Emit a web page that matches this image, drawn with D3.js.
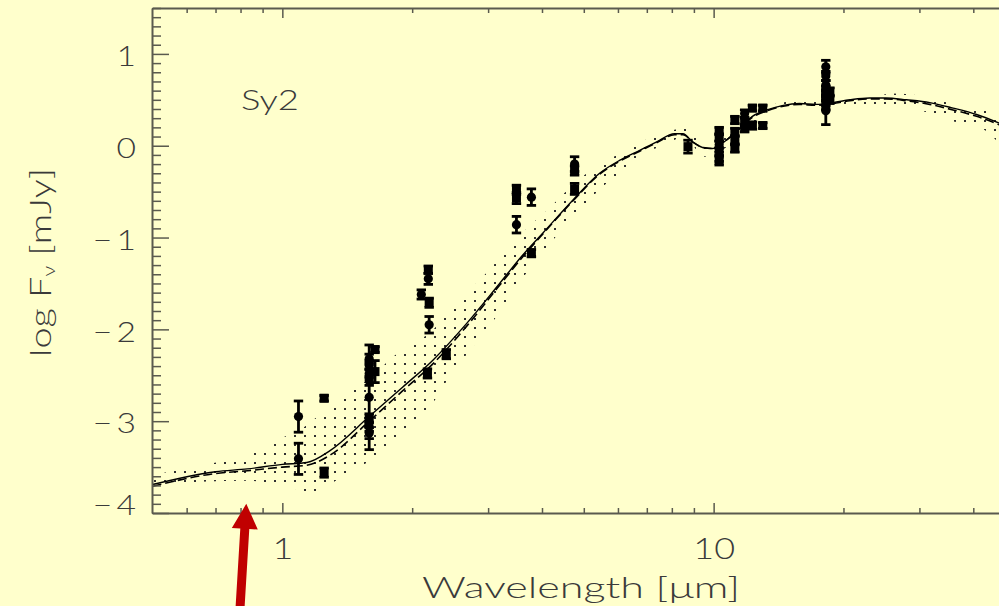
<!DOCTYPE html>
<html>
<head>
<meta charset="utf-8">
<script src="https://cdn.jsdelivr.net/npm/d3@7"></script>
<style>
  html, body { margin: 0; padding: 0; background: #ffffcc; }
  svg { display: block; }
  text { font-family: Lato, "DejaVu Sans", sans-serif; font-weight: 300; fill: #3a3a3a; }
</style>
</head>
<body>
<svg id="chart" width="999" height="606"></svg>
<script>
// ---- Model SED (log flux density vs. wavelength in micron) ----
const modelWave   = [0.5, 0.7, 0.83, 1.0, 1.14, 1.29, 1.59, 1.90, 2.24, 2.67, 3.19, 3.61, 4.02, 4.72, 5.44, 6.05, 6.74, 7.36, 8.12, 8.49, 8.95, 9.45, 9.96, 10.7, 11.5, 12.3, 13.3, 14.5, 15.8, 17.3, 18.9, 20.7, 23.0, 25.1, 28.0, 31.7, 35.9, 40.7, 45.8, 50];
const modelSolid  = [-3.69, -3.55, -3.52, -3.47, -3.45, -3.32, -2.95, -2.63, -2.33, -1.94, -1.50, -1.19, -0.95, -0.59, -0.30, -0.16, -0.05, 0.04, 0.13, 0.13, 0.04, -0.02, -0.03, 0.06, 0.19, 0.32, 0.39, 0.44, 0.46, 0.45, 0.47, 0.50, 0.52, 0.52, 0.50, 0.47, 0.41, 0.34, 0.25, 0.17];
const modelDashed = [-3.71, -3.57, -3.54, -3.50, -3.48, -3.37, -3.00, -2.67, -2.37, -1.97, -1.52, -1.21, -0.96, -0.60, -0.31, -0.17, -0.06, 0.03, 0.12, 0.12, 0.04, -0.02, -0.03, 0.06, 0.19, 0.31, 0.38, 0.43, 0.45, 0.44, 0.46, 0.49, 0.51, 0.51, 0.49, 0.45, 0.39, 0.32, 0.23, 0.15];

// ---- Spread of the model family (dotted envelope) ----
const bandWave  = [0.5, 0.644, 0.831, 1.0, 1.097, 1.175, 1.308, 1.456, 1.612, 1.793, 2.01, 2.22, 2.44, 2.72, 3.02, 3.36, 3.73, 4.12, 4.59, 5.08, 5.65, 6.28, 6.92, 7.69, 8.55, 9.5, 10.6, 11.8, 13.7, 16.1, 20.4, 23.3, 25.9, 28.6, 31.7, 34.8, 39.2, 43.4, 47.2];
const bandUpper = [-3.59, -3.48, -3.37, -3.18, -3.10, -2.99, -2.84, -2.66, -2.52, -2.31, -2.15, -2.02, -1.79, -1.57, -1.35, -1.10, -0.88, -0.70, -0.48, -0.30, -0.16, -0.05, 0.06, 0.14, 0.19, 0.03, 0.12, 0.28, 0.45, 0.49, 0.48, 0.53, 0.57, 0.56, 0.52, 0.47, 0.41, 0.37, 0.28];
const bandLower = [-3.73, -3.66, -3.65, -3.70, -3.75, -3.77, -3.67, -3.53, -3.42, -3.21, -3.02, -2.82, -2.52, -2.23, -1.97, -1.65, -1.35, -1.10, -0.84, -0.62, -0.41, -0.27, -0.08, 0.00, 0.10, -0.12, -0.03, 0.14, 0.40, 0.40, 0.43, 0.43, 0.41, 0.39, 0.36, 0.28, 0.23, 0.14, -0.05];

// ---- Photometry ----
const obsWave   = [1.09, 1.09, 1.25, 1.25, 1.59, 1.59, 1.59, 1.59, 1.59, 1.59, 1.59, 1.59, 1.64, 1.64, 2.18, 2.18, 2.10, 2.19, 2.19, 2.40, 2.17, 3.49, 3.49, 3.49, 3.78, 3.78, 4.76, 4.76, 4.76, 8.72, 10.3, 10.3, 10.3, 10.3, 10.3, 10.3, 11.2, 11.2, 11.2, 11.2, 11.8, 11.8, 11.8, 12.3, 12.3, 13.0, 13.0, 18.2, 18.2, 18.2, 18.2, 18.2, 18.2, 18.2, 18.2, 18.6, 18.6];
const obsLogF   = [-2.95, -3.41, -2.75, -3.56, -2.32, -2.39, -2.48, -2.56, -2.74, -2.97, -3.06, -3.13, -2.22, -2.46, -1.35, -1.45, -1.62, -1.71, -1.95, -2.27, -2.48, -0.48, -0.57, -0.86, -0.56, -1.17, -0.20, -0.27, -0.47, -0.01, 0.16, 0.09, 0.01, -0.06, -0.12, -0.16, 0.28, 0.15, 0.06, -0.03, 0.35, 0.26, 0.19, 0.41, 0.22, 0.41, 0.22, 0.86, 0.76, 0.66, 0.60, 0.55, 0.49, 0.44, 0.38, 0.59, 0.50];
const obsErr    = [0.17, 0.17, 0.03, 0.05, 0.05, 0.05, 0.05, 0.05, 0.57, 0.05, 0.05, 0.06, 0.03, 0.12, 0.04, 0.06, 0.05, 0.05, 0.09, 0.05, 0.05, 0.05, 0.06, 0.09, 0.09, 0.04, 0.08, 0.05, 0.06, 0.07, 0.04, 0.04, 0.04, 0.04, 0.05, 0.05, 0.04, 0.04, 0.04, 0.04, 0.04, 0.04, 0.04, 0.03, 0.04, 0.03, 0.03, 0.07, 0.05, 0.05, 0.05, 0.05, 0.05, 0.05, 0.15, 0.04, 0.04];
const obsMarker = ["circle", "circle", "square", "square", "circle", "circle", "circle", "circle", "circle", "square", "circle", "circle", "square", "square", "square", "circle", "circle", "square", "circle", "square", "square", "square", "square", "circle", "circle", "square", "circle", "square", "square", "square", "square", "square", "circle", "circle", "circle", "square", "square", "square", "square", "square", "circle", "square", "square", "square", "square", "square", "square", "circle", "circle", "circle", "square", "square", "circle", "square", "circle", "square", "square"];

// ---- Axis ticks and labels ----
const xMajorTicks = [1, 10];
const xMinorTicks = [0.6, 0.7, 0.8, 0.9, 2, 3, 4, 5, 6, 7, 8, 9, 20, 30, 40];
const yMajorTicks = [-4, -3, -2, -1, 0, 1];
const yMinorTicks = d3.range(-40, 16).filter(v => v % 10 !== 0).map(v => v / 10);
const xTitle = "Wavelength [\u03bcm]";
const panelLabel = "Sy2";
// Marker for the wavelength of interest
const arrowTip = { wave: 0.825, logF: -3.9 };

// ---- Layout ----
const W = 999, H = 606;
const plotLeft = 152, plotTop = 8, plotBottom = 513;
const decade = 431.3;
const glyphStretch = 1.2;   // wide, plotter-style lettering

const svg = d3.select("#chart");
svg.append("rect").attr("width", W).attr("height", H).attr("fill", "#ffffcc");

const x = d3.scaleLog().domain([0.5, 50]).range([plotLeft + 0.5, plotLeft + 0.5 + 2 * decade]);
const y = d3.scaleLinear().domain([-4, 1.5]).range([plotBottom, plotTop]);

const defs = svg.append("defs");
defs.append("clipPath").attr("id", "plot-clip")
  .append("rect").attr("x", plotLeft).attr("y", plotTop).attr("width", W - plotLeft).attr("height", plotBottom - plotTop);
const dots = defs.append("pattern").attr("id", "dots")
  .attr("patternUnits", "userSpaceOnUse").attr("width", 10).attr("height", 9);
dots.append("rect").attr("x", 4).attr("y", 3).attr("width", 2).attr("height", 2)
  .attr("fill", "#303030").attr("shape-rendering", "crispEdges");

const plot = svg.append("g").attr("clip-path", "url(#plot-clip)");

// dotted envelope of the model family
const band = bandWave.map((w, i) => ({ w, hi: bandUpper[i], lo: bandLower[i] }));
plot.append("path").datum(band)
  .attr("fill", "url(#dots)")
  .attr("d", d3.area().x(d => x(d.w)).y0(d => y(d.lo)).y1(d => y(d.hi)).curve(d3.curveMonotoneX));

// model curves
const solid = modelWave.map((w, i) => ({ w, v: modelSolid[i] }));
const dashed = modelWave.map((w, i) => ({ w, v: modelDashed[i] }));
const line = d3.line().x(d => x(d.w)).y(d => y(d.v)).curve(d3.curveMonotoneX);
plot.append("path").datum(dashed).attr("d", line)
  .attr("fill", "none").attr("stroke", "#000").attr("stroke-width", 1.6).attr("stroke-dasharray", "9,4");
plot.append("path").datum(solid).attr("d", line)
  .attr("fill", "none").attr("stroke", "#000").attr("stroke-width", 1.4);

// photometric points with error bars
const obs = obsWave.map((w, i) => ({ w, v: obsLogF[i], e: obsErr[i], m: obsMarker[i] }));
const pts = plot.append("g").selectAll("g").data(obs).join("g");
pts.append("line")
  .attr("x1", d => x(d.w)).attr("x2", d => x(d.w))
  .attr("y1", d => y(d.v - d.e)).attr("y2", d => y(d.v + d.e))
  .attr("stroke", "#000").attr("stroke-width", 2.8);
[-1, 1].forEach(s => {
  pts.append("line")
    .attr("x1", d => x(d.w) - 4.7).attr("x2", d => x(d.w) + 4.7)
    .attr("y1", d => y(d.v + s * d.e)).attr("y2", d => y(d.v + s * d.e))
    .attr("stroke", "#000").attr("stroke-width", 2.8);
});
pts.filter(d => d.m === "circle").append("circle")
  .attr("cx", d => x(d.w)).attr("cy", d => y(d.v)).attr("r", 4.6).attr("fill", "#000");
pts.filter(d => d.m === "square").append("rect")
  .attr("x", d => x(d.w) - 4.5).attr("y", d => y(d.v) - 4.5)
  .attr("width", 9).attr("height", 9).attr("fill", "#000");

// ---- Axes ----
const axisColor = "#5a5a4e";
function styleAxis(g, keepDomain) {
  g.selectAll(".tick line").attr("stroke", axisColor).attr("stroke-width", 1.5);
  if (keepDomain) g.select(".domain").attr("stroke", axisColor).attr("stroke-width", 2);
  else g.select(".domain").remove();
  g.selectAll("text").attr("fill", "#3a3a3a").attr("font-family", null).attr("font-weight", 300);
}

// left
svg.append("g").attr("transform", `translate(${plotLeft},0)`)
  .call(d3.axisLeft(y).tickValues(yMinorTicks).tickSize(-9).tickFormat(""))
  .call(g => styleAxis(g, false));
const yAx = svg.append("g").attr("transform", `translate(${plotLeft},0)`)
  .call(d3.axisLeft(y).tickValues(yMajorTicks).tickSizeInner(-17).tickSizeOuter(0).tickPadding(16)
    .tickFormat(d => d < 0 ? "\u2212\u2009" + Math.abs(d) : String(d)))
  .call(g => styleAxis(g, true));
yAx.selectAll("text").attr("font-size", 28).attr("dy", "0.42em")
  .attr("x", -16 / glyphStretch).attr("transform", `scale(${glyphStretch},1)`)
  .filter(d => d === -4).attr("dy", "0.05em");

// bottom
svg.append("g").attr("transform", `translate(0,${plotBottom})`)
  .call(d3.axisBottom(x).tickValues(xMinorTicks).tickSize(-5).tickFormat(""))
  .call(g => styleAxis(g, false));
const xAx = svg.append("g").attr("transform", `translate(0,${plotBottom})`)
  .call(d3.axisBottom(x).tickValues(xMajorTicks).tickSizeInner(-10).tickSizeOuter(0).tickPadding(25)
    .tickFormat(d3.format("d")))
  .call(g => styleAxis(g, true));
xAx.selectAll("text").attr("font-size", 30).attr("transform", `scale(${glyphStretch},1)`);

// top
svg.append("g").attr("transform", `translate(0,${plotTop})`)
  .call(d3.axisTop(x).tickValues(xMinorTicks).tickSize(-5).tickFormat(""))
  .call(g => styleAxis(g, false));
svg.append("g").attr("transform", `translate(0,${plotTop})`)
  .call(d3.axisTop(x).tickValues(xMajorTicks).tickSizeInner(-10).tickSizeOuter(0).tickFormat(""))
  .call(g => styleAxis(g, true));

// ---- Titles (glyphs widened to a given overall length) ----
function widen(sel, base, target) {
  const len = sel.node().getComputedTextLength();
  sel.attr("transform", `${base} scale(${target / len},1)`);
}

const xt = svg.append("text").attr("font-size", 30).text(xTitle);
widen(xt, "translate(422,598)", 318);

const yt = svg.append("text").attr("text-anchor", "middle").attr("font-size", 30);
yt.append("tspan").text("log F");
yt.append("tspan").attr("font-size", 17).attr("dy", 4).text("\u03bd");
yt.append("tspan").attr("dy", -4).text(" [mJy]");
widen(yt, "translate(51,262.5) rotate(-90)", 189);

const pl = svg.append("text").attr("font-size", 28).text(panelLabel);
widen(pl, "translate(241,110)", 58);

// ---- Red arrow pointing at the marked wavelength ----
const ax = x(arrowTip.wave), ay = y(arrowTip.logF);
svg.append("path")
  .attr("transform", `translate(${ax},${ay}) rotate(3.45)`)
  .attr("d", "M0,0 L13,25 L4.5,25 L4.5,120 L-4.5,120 L-4.5,25 L-13,25 Z")
  .attr("fill", "#c00000");
</script>
</body>
</html>
